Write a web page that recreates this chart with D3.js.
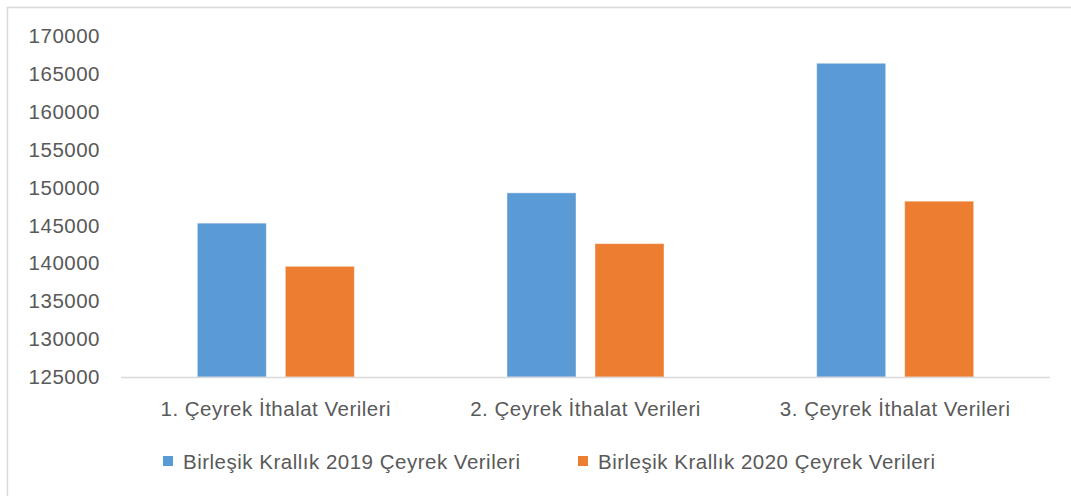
<!DOCTYPE html>
<html>
<head>
<meta charset="utf-8">
<script src="https://cdn.jsdelivr.net/npm/d3@7"></script>
<style>
  body { margin: 0; background: #fff; }
  text { font-family: "Liberation Sans", Arial, sans-serif; fill: #595959; letter-spacing: 0.5px; }
</style>
</head>
<body>
<svg id="chart"></svg>
<script>
(() => {
  // Data
  const categories = ["1. Çeyrek İthalat Verileri", "2. Çeyrek İthalat Verileri", "3. Çeyrek İthalat Verileri"];
  const seriesNames = ["Birleşik Krallık 2019 Çeyrek Verileri", "Birleşik Krallık 2020 Çeyrek Verileri"];
  const values2019 = [145300, 149300, 166400];
  const values2020 = [139600, 142600, 148200];
  const yTicks = [125000, 130000, 135000, 140000, 145000, 150000, 155000, 160000, 165000, 170000];
  const colors = ["#5B9BD5", "#ED7D31"];

  const width = 1071;
  const height = 496;
  const plot = { left: 121, right: 1050, top: 36, bottom: 377 };

  const svg = d3.select("#chart")
    .attr("width", width)
    .attr("height", height);

  // Chart area border (only top and left are inside the picture)
  svg.append("path")
    .attr("d", `M7.5,${height} V7.5 H${width}`)
    .attr("fill", "none")
    .attr("stroke", "#d9d9d9")
    .attr("stroke-width", 1.5);

  const y = d3.scaleLinear()
    .domain([125000, 170000])
    .range([plot.bottom, plot.top]);

  const x0 = d3.scaleBand()
    .domain(categories)
    .range([plot.left, plot.right]);

  const x1 = d3.scaleBand()
    .domain(seriesNames)
    .range([-78.5, 78.5])
    .paddingInner(0.216);

  // Y axis labels
  const yAxis = svg.append("g")
    .attr("transform", `translate(100,0)`)
    .call(d3.axisLeft(y).tickValues(yTicks).tickSize(0).tickPadding(0).tickFormat(d3.format("d")));
  yAxis.select(".domain").remove();
  yAxis.selectAll("text")
    .style("font-size", "20.5px")
    .attr("fill", "#595959");

  // Bars
  const table = categories.map((c, i) => ({ cat: c, vals: [values2019[i], values2020[i]] }));
  const groups = svg.append("g")
    .selectAll("g")
    .data(table)
    .join("g")
    .attr("transform", d => `translate(${x0(d.cat) + x0.bandwidth() / 2},0)`);

  groups.selectAll("rect")
    .data(d => d.vals.map((v, j) => ({ name: seriesNames[j], v, j })))
    .join("rect")
    .attr("x", d => x1(d.name))
    .attr("width", x1.bandwidth())
    .attr("y", d => y(d.v))
    .attr("height", d => y(125000) - y(d.v))
    .attr("fill", d => colors[d.j])
    .attr("stroke", "#fff")
    .attr("stroke-opacity", 0.4)
    .attr("stroke-width", 1);

  // Baseline
  svg.append("line")
    .attr("x1", plot.left)
    .attr("x2", plot.right)
    .attr("y1", y(125000) + 0.5)
    .attr("y2", y(125000) + 0.5)
    .attr("stroke", "#d9d9d9")
    .attr("stroke-width", 1.5);

  // Category labels
  const xAxis = svg.append("g")
    .attr("transform", `translate(0,${plot.bottom})`)
    .call(d3.axisBottom(x0).tickSize(0).tickPadding(24));
  xAxis.select(".domain").remove();
  xAxis.selectAll("text")
    .style("font-size", "20.5px")
    .attr("fill", "#595959");

  // Legend
  const legendX = [163, 578];
  const legend = svg.append("g")
    .selectAll("g")
    .data(seriesNames)
    .join("g")
    .attr("transform", (d, i) => `translate(${legendX[i]},456)`);
  legend.append("rect")
    .attr("width", 10)
    .attr("height", 10)
    .attr("fill", (d, i) => colors[i]);
  legend.append("text")
    .attr("x", 20)
    .attr("y", 5)
    .attr("dy", "0.4em")
    .style("font-size", "20.5px")
    .text(d => d);
})();
</script>
</body>
</html>
